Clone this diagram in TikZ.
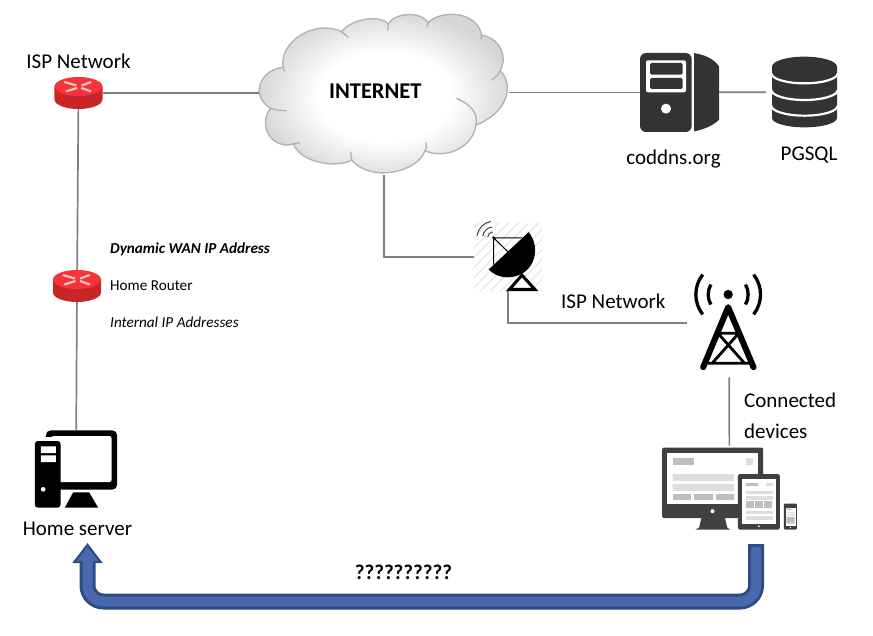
\documentclass[tikz,border=0pt]{standalone}
\usepackage{fontspec}
\setmainfont{Carlito}
\usepackage{xcolor}
\usepackage{tikz}
\usetikzlibrary{arrows.meta,calc,positioning}
\definecolor{LinkGray}{HTML}{808080}
\definecolor{CloudEdge}{HTML}{B4B4B4}
\definecolor{CloudShade}{HTML}{D6D6D6}
\definecolor{RouterTop}{HTML}{F5333A}
\definecolor{RouterSide}{HTML}{C92426}
\definecolor{RouterMark}{HTML}{F9C6C6}
\definecolor{IconDark}{HTML}{333333}
\definecolor{DeviceDark}{HTML}{404040}
\definecolor{DeviceMid}{HTML}{BDBEC0}
\definecolor{DeviceLight}{HTML}{DEDEDF}
\definecolor{HatchGray}{HTML}{EBEBEB}
\definecolor{ArrowEdge}{HTML}{2F4B85}
\definecolor{ArrowFill}{HTML}{4A68AC}
\pgfdeclareradialshading{cloudshade}{\pgfpoint{0bp}{0bp}}{%
    color(0bp)=(white); color(13bp)=(white); color(25bp)=(CloudShade); color(50bp)=(CloudShade)}
\tikzset{
    icon/.style={inner sep=0pt, outer sep=0pt},
    zoomgrid/.style={x=0.33333pt, y=-0.33333pt},
    link/.style={LinkGray, line width=1.7pt},
    biglabel/.style={inner sep=0pt, font=\fontsize{21}{23}\selectfont},
    smalllabel/.style={inner sep=0pt, font=\fontsize{15.2}{17}\selectfont}
}
\newcommand{\routericon}{%
    \begin{tikzpicture}[x=1pt, y=-1pt]
        \useasboundingbox (-24,-16) rectangle (24,16);
        \fill[RouterSide] (-24,-6.5) -- (-24,6.5) arc[start angle=180, end angle=0, x radius=24, y radius=9.5] -- (24,-6.5) -- cycle;
        \fill[RouterTop] (0,-6.5) ellipse[x radius=24, y radius=9.5];
        \fill[RouterMark] (-14,-12) -- (-1.5,-8.5) -- (-2.5,-6.5) -- (-14.5,-10) -- cycle
            (12.5,-12) -- (2.5,-8.5) -- (3.5,-6.5) -- (13,-10) -- cycle
            (-12.5,-0.5) -- (-1,-4) -- (-2,-6) -- (-13,-2.5) -- cycle
            (12.5,-0.5) -- (2.5,-4) -- (3.5,-6) -- (13,-2.5) -- cycle;
    \end{tikzpicture}%
}
\newcommand{\cloudicon}{%
    \begin{tikzpicture}[zoomgrid]
        \useasboundingbox (28,40) rectangle (778,525);
        \path[draw=CloudEdge, line width=1.4pt, shading=cloudshade]
            (28,270) .. controls (28,235) and (60,205) .. (100,202)
            .. controls (85,130) and (190,55) .. (275,95)
            .. controls (300,60) and (385,40) .. (415,72)
            .. controls (430,40) and (510,30) .. (535,68)
            .. controls (570,30) and (680,30) .. (695,105)
            .. controls (750,115) and (775,170) .. (750,212)
            .. controls (785,240) and (790,330) .. (678,375)
            .. controls (670,440) and (590,480) .. (525,452)
            .. controls (505,515) and (365,550) .. (305,480)
            .. controls (260,505) and (155,490) .. (130,432)
            .. controls (70,450) and (20,380) .. (62,325)
            .. controls (40,310) and (28,295) .. (28,270) -- cycle;
        \draw[CloudEdge, line width=1.4pt]
            (100,202) -- (103,215)
            (275,95) -- (295,112)
            (415,72) -- (413,92)
            (535,68) -- (530,82)
            (695,105) -- (693,118)
            (750,212) .. controls (745,225) .. (725,240)
            (620,295) .. controls (665,315) and (685,340) .. (678,375)
            (525,452) .. controls (530,445) .. (528,428)
            (305,480) .. controls (303,470) .. (302,455)
            (130,432) -- (150,428)
            (62,325) .. controls (75,330) .. (110,332);
    \end{tikzpicture}%
}
\newcommand{\webservericon}{%
    \begin{tikzpicture}[zoomgrid]
        \useasboundingbox (60,40) rectangle (297,277);
        \fill[IconDark, rounded corners=6pt] (60,40) rectangle (215,277);
        \fill[IconDark] (222,40) .. controls (250,45) and (280,55) .. (297,80) -- (297,240) .. controls (280,258) and (250,270) .. (222,275) -- cycle;
        \fill[white, rounded corners=2pt] (78,62) rectangle (198,158);
        \fill[IconDark, rounded corners=1.5pt] (90,70) rectangle (188,105) (90,115) rectangle (188,148);
        \fill[white] (138,207) circle[radius=15];
    \end{tikzpicture}%
}
\newcommand{\databaseicon}{%
    \begin{tikzpicture}[zoomgrid]
        \useasboundingbox (455,50) rectangle (650,262);
        \fill[IconDark] (455,80) arc[start angle=180, end angle=360, x radius=97.5, y radius=30] -- (650,234) arc[start angle=0, end angle=180, x radius=97.5, y radius=28] -- cycle;
        \foreach \bandy in {100,150,197} {
            \draw[white, line width=2.2pt] (453,\bandy) arc[start angle=180, end angle=0, x radius=99.5, y radius=30];
        }
    \end{tikzpicture}%
}
\newcommand{\dishicon}{%
    \begin{tikzpicture}[zoomgrid]
        \useasboundingbox (40,40) rectangle (245,245);
        \begin{scope}
            \clip (40,40) rectangle (245,245);
            \foreach \hatchx in {-150,-120,...,240} {
                \draw[HatchGray, line width=1.6pt] (\hatchx,245) -- ++(205,-205);
            }
        \end{scope}
        \fill[black] (85,180) -- (205,68) .. controls (240,110) and (225,175) .. (180,195) .. controls (145,210) and (110,205) .. (85,180) -- cycle;
        \draw[black, line width=1pt] (100,165) -- (100,85) -- (185,85) (100,85) -- (148,132);
        \fill[black] (100,85) circle[radius=4.5];
        \draw[white, fill=white] (185,205) -- (158,238) -- (212,238) -- cycle;
        \draw[black, line width=3pt, line join=miter] (185,197) -- (147,240) -- (224,240) -- cycle;
        \foreach \waver in {18,33,50} {
            \draw[black!75, line width=1pt] (100,85) ++(-100:\waver) arc[start angle=-100, end angle=-172, radius=\waver];
        }
    \end{tikzpicture}%
}
\newcommand{\towericon}{%
    \begin{tikzpicture}[zoomgrid]
        \useasboundingbox (712,195) rectangle (905,480);
        \draw[black, line width=6pt, line cap=round, line join=round] (731,470) -- (806,290) -- (882,470);
        \draw[black, line width=2.8pt] (772,368) -- (840,368) (745,458) -- (870,458) (775,368) -- (855,458) (838,368) -- (758,458);
        \fill[black] (806,252) circle[radius=14];
        \foreach \towerr/\towera in {60/30,97/38} {
            \draw[black, line width=3.3pt] (806,252) ++(180-\towera:\towerr) arc[start angle=180-\towera, end angle=180+\towera, radius=\towerr];
            \draw[black, line width=3.3pt] (806,252) ++(-\towera:\towerr) arc[start angle=-\towera, end angle=\towera, radius=\towerr];
        }
    \end{tikzpicture}%
}
\newcommand{\homepcicon}{%
    \begin{tikzpicture}[zoomgrid]
        \useasboundingbox (75,30) rectangle (322,262);
        \fill[black, rounded corners=5pt] (108,30) rectangle (322,208);
        \fill[white, rounded corners=2pt] (125,47) rectangle (305,185);
        \fill[white] (100,50) rectangle (125,62);
        \fill[black, rounded corners=3pt] (75,62) rectangle (152,262);
        \fill[white] (93,78) rectangle (138,98) (93,105) rectangle (138,125);
        \fill[white] (100,207) circle[radius=7];
        \fill[black] (190,216) -- (238,216) -- (265,262) -- (165,262) -- cycle;
    \end{tikzpicture}%
}
\newcommand{\devicesicon}{%
    \begin{tikzpicture}[zoomgrid]
        \useasboundingbox (67,50) rectangle (471,296);
        \fill[DeviceDark, rounded corners=2pt] (67,50) rectangle (370,262);
        \fill[white] (82,67) rectangle (355,220);
        \fill[DeviceDark] (185,260) -- (255,260) -- (262,290) -- (270,296) -- (167,296) -- (178,290) -- cycle;
        \fill[white] (218,241) circle[radius=6];
        \fill[DeviceMid] (98,82) rectangle (163,102);
        \fill[DeviceLight] (318,82) rectangle (340,102) (98,130) rectangle (283,150) (98,160) rectangle (283,180);
        \foreach \boxx in {98,163,228} {
            \fill[DeviceMid] (\boxx,188) rectangle ++(55,20);
        }
        \fill[DeviceDark, rounded corners=1.5pt] (294,130) rectangle (420,296);
        \fill[white] (307,143) rectangle (407,278);
        \fill[white] (357,286) circle[radius=3];
        \fill[DeviceMid] (317,155) rectangle (354,165);
        \fill[DeviceLight] (378,155) rectangle (398,165);
        \foreach \rowy in {179,195,239,255} {
            \fill[DeviceLight] (317,\rowy) rectangle ++(81,11);
        }
        \foreach \boxx in {317,345,373} {
            \fill[DeviceMid] (\boxx,211) rectangle ++(24,20);
        }
        \fill[DeviceDark, rounded corners=1pt] (432,218) rectangle (471,296);
        \fill[white] (437,230) rectangle (467,285);
        \fill[DeviceMid] (440,233) rectangle (455,238) (440,258) rectangle (464,278);
        \fill[DeviceLight] (440,243) rectangle (464,247) (440,250) rectangle (464,254);
        \fill[white] (452,290) circle[radius=2];
    \end{tikzpicture}%
}

\begin{document}
\begin{tikzpicture}[x=1pt, y=-1pt]
        \useasboundingbox (0,0) rectangle (873,636);

        \node[icon] (ispRouter) at (78.5,93) {\routericon};
        \node[icon] (homeRouter) at (77,286) {\routericon};
        \node[icon] (cloud) at (384.3,94.2) {\cloudicon};
        \node[icon] (webServer) at (679.5,92.5) {\webservericon};
        \node[icon, inner xsep=6pt] (database) at (804.5,92) {\databaseicon};
        \node[icon] (dish) at (507.8,257) {\dishicon};
        \node[icon, inner xsep=10pt, inner ysep=7pt] (tower) at (729,323) {\towericon};
        \node[icon] (homeServer) at (76,469) {\homepcicon};
        \node[icon, inner ysep=2pt] (devices) at (729.5,488.5) {\devicesicon};

        \node[font=\fontsize{22.5}{24}\selectfont\bfseries, inner sep=0pt, xshift=-9pt, yshift=3pt] (internet) at (cloud.center) {INTERNET};
        \node[biglabel, above=8pt of ispRouter] (ispLabel) {ISP Network};
        \node[smalllabel, right=9pt of homeRouter] (homeRouterLabel) {Home Router};
        \node[smalllabel, above=25pt of homeRouterLabel.north west, anchor=south west] (wanLabel) {\textbf{\textit{Dynamic WAN IP Address}}};
        \node[smalllabel, below=26pt of homeRouterLabel.south west, anchor=north west] (lanLabel) {\textit{Internal IP Addresses}};
        \node[biglabel, below=14pt of homeServer, xshift=1.5pt] (homeServerLabel) {Home server};
        \node[biglabel, below=18pt of webServer.south, xshift=-6pt] (webServerLabel) {coddns.org};
        \node[biglabel, below=19pt of database.south, xshift=4.5pt] (databaseLabel) {PGSQL};
        \node[biglabel, anchor=west] (dishLabel) at (561,301) {ISP Network};
        \node[biglabel, align=left, anchor=north west] (devicesLabel) at (744,393) {Connected\\[8pt]devices};
        \node[font=\fontsize{21}{23}\selectfont\bfseries, inner sep=0pt] (questionLabel) at (403.5,572) {??????????};

        \draw[link] (ispRouter) -- (ispRouter -| cloud.west);
        \draw[link] (ispRouter) -- (homeRouter);
        \draw[link] (homeRouter) -- (homeServer);
        \draw[link] (cloud.east |- webServer) -- (webServer.west);
        \draw[link] (webServer) -- (database);
        \draw[link] (cloud.south) |- (dish.west);
        \draw[link] (dish.south) |- (tower.west);
        \draw[link] (tower) -- (devices);

        \coordinate (arrowStart) at (756,544);
        \coordinate (arrowBase) at (420,601.5);
        \coordinate (arrowTip) at (87.5,543);
        \draw[ArrowEdge, line width=16pt, rounded corners=16pt, -{Triangle[length=20pt, width=29pt]}] (arrowStart) |- (arrowBase) -| (arrowTip);
        \draw[ArrowFill, line width=10pt, rounded corners=16pt, shorten <=3pt, shorten >=4pt, -{Triangle[length=14pt, width=21pt]}] (arrowStart) |- (arrowBase) -| (arrowTip);
    \end{tikzpicture}
\end{document}
